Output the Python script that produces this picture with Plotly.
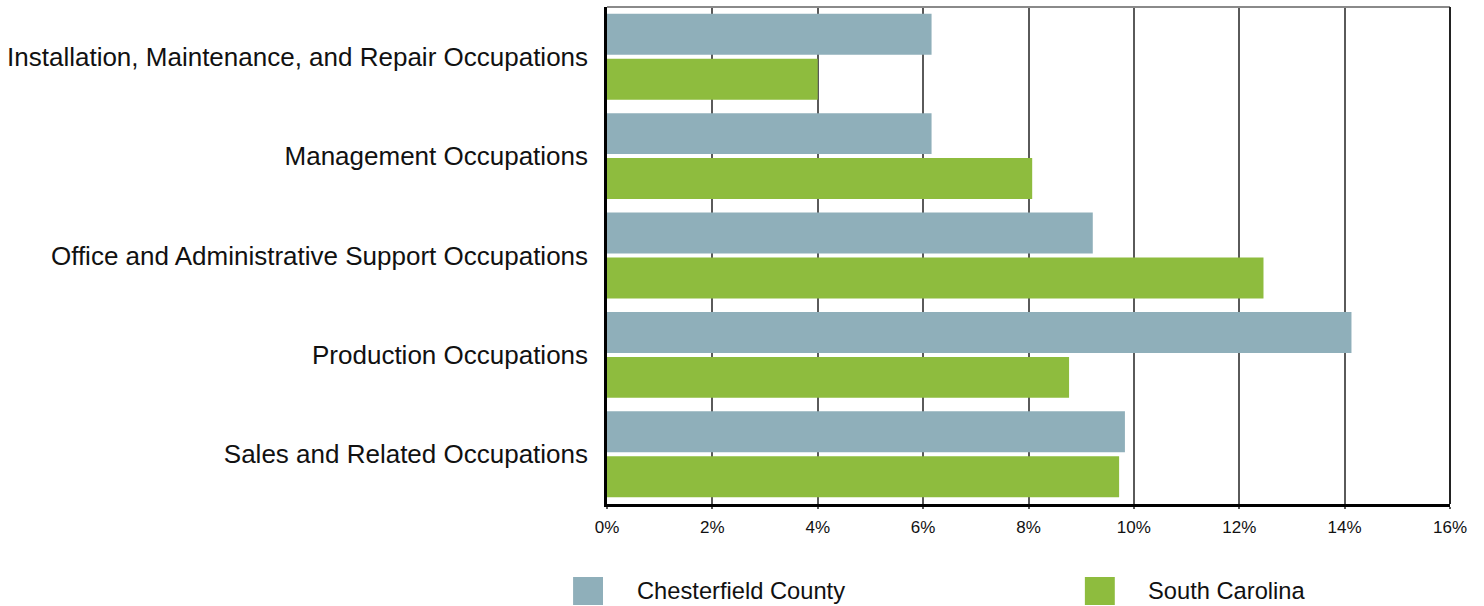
import plotly.graph_objects as go

categories = [
    "Installation, Maintenance, and Repair Occupations",
    "Management Occupations",
    "Office and Administrative Support Occupations",
    "Production Occupations",
    "Sales and Related Occupations",
]
chesterfield = [6.16, 6.16, 9.22, 14.13, 9.83]
south_carolina = [4.0, 8.07, 12.46, 8.77, 9.72]
series_names = ["Chesterfield County", "South Carolina"]
colors = ["#8FAFBA", "#8EBC3E"]
x_ticks = [0, 2, 4, 6, 8, 10, 12, 14, 16]
x_tick_labels = [f"{v}%" for v in x_ticks]

FONT = "Liberation Sans, Arial, sans-serif"

fig = go.Figure()
for name, vals, col in zip(series_names, [chesterfield, south_carolina], colors):
    fig.add_trace(go.Bar(
        y=categories, x=vals, name=name, orientation="h",
        marker=dict(color=col, line=dict(width=0)),
        showlegend=False,
    ))

W, H = 1484, 606
L, R, T, B = 605, 34, 7, 102
pw, ph = W - L - R, H - T - B

def px_x(p):
    return (p - L) / pw

def px_y(p):
    return (H - B - p) / ph

shapes = [
    dict(type="line", xref="paper", yref="paper", x0=0, x1=1, y0=1, y1=1,
         line=dict(color="#8a8a8a", width=2)),
    dict(type="line", xref="paper", yref="paper", x0=1, x1=1, y0=0, y1=1,
         line=dict(color="#222222", width=2)),
]
annotations = []
legend_pos = [(571, 633), (1084, 1145)]
for (sx, tx), name, col in zip(legend_pos, series_names, colors):
    shapes.append(dict(type="rect", xref="paper", yref="paper",
                       x0=px_x(sx), x1=px_x(sx + 30),
                       y0=px_y(577), y1=px_y(605),
                       fillcolor=col, line=dict(width=0)))
    annotations.append(dict(xref="paper", yref="paper", x=px_x(tx), y=px_y(591),
                            xanchor="left", yanchor="middle", showarrow=False,
                            text=name, font=dict(family=FONT, size=23.7, color="#111111")))

fig.update_layout(
    width=W, height=H,
    margin=dict(l=L, r=R, t=T, b=B, pad=0),
    paper_bgcolor="white", plot_bgcolor="white",
    barmode="group", bargap=0.096, bargroupgap=0.089,
    font=dict(family=FONT, color="#111111"),
    shapes=shapes, annotations=annotations,
    showlegend=False,
)
fig.update_xaxes(
    range=[0, 16], tickvals=x_ticks, ticktext=x_tick_labels,
    showgrid=True, gridcolor="#5a5a5a", gridwidth=1.5,
    showline=True, linecolor="#000000", linewidth=2.5,
    ticks="outside", ticklen=2, tickcolor="#5a5a5a", tickwidth=1.5,
    ticklabelstandoff=4,
    tickfont=dict(family=FONT, size=17, color="#111111"),
    zeroline=False, fixedrange=True,
)
fig.update_yaxes(
    autorange="reversed", categoryorder="array", categoryarray=categories,
    showgrid=False, showline=True, linecolor="#000000", linewidth=2.5,
    ticks="", ticklabelstandoff=11,
    tickfont=dict(family=FONT, size=26, color="#111111"),
    fixedrange=True,
)

fig.write_html("out.html", config={"displayModeBar": False},
               post_script="document.body.style.margin='0';document.body.style.padding='0';")
